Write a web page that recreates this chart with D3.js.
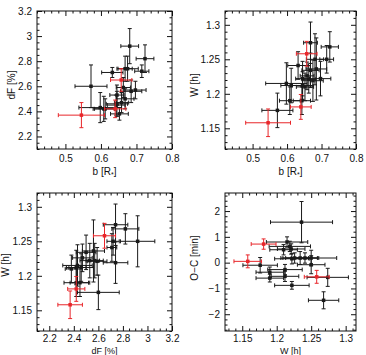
<!DOCTYPE html>
<html><head><meta charset="utf-8">
<script src="https://cdn.jsdelivr.net/npm/d3@7"></script>
<style>
body{margin:0;background:#fff}
svg{display:block}
text{font-family:"Liberation Sans",Arial,Helvetica,sans-serif;fill:#111}
</style>
</head><body><svg id="c" width="366" height="355"></svg>
<script>
// impact parameter b [R*]
const bVal   = [0.668,0.724,0.681,0.715,0.632,0.668,0.685,0.663,0.645,0.697,0.675,0.598,0.612,0.645,0.652,0.608,0.643,0.572,0.658, 0.545,0.640,0.657];
const bErr   = [0.020,0.025,0.025,0.020,0.030,0.025,0.030,0.020,0.020,0.030,0.030,0.060,0.030,0.030,0.025,0.030,0.025,0.045,0.020, 0.065,0.030,0.030];
// depth dF [%]
const dFVal  = [2.74,2.82,2.92,2.72,2.71,2.50,2.56,2.59,2.53,2.57,2.74,2.43,2.42,2.46,2.38,2.42,2.45,2.60,2.47, 2.37,2.42,2.65];
const dFErr  = [0.10,0.11,0.14,0.05,0.04,0.08,0.09,0.08,0.08,0.07,0.10,0.12,0.08,0.10,0.05,0.10,0.08,0.17,0.08, 0.10,0.07,0.09];
// duration W [h]
const wVal   = [1.274,1.268,1.250,1.250,1.241,1.234,1.236,1.221,1.222,1.222,1.219,1.215,1.212,1.212,1.210,1.190,1.190,1.176,1.226, 1.158,1.181,1.258];
const wErr   = [0.030,0.022,0.037,0.020,0.020,0.025,0.045,0.020,0.025,0.025,0.030,0.030,0.025,0.020,0.020,0.020,0.020,0.025,0.020, 0.020,0.018,0.018];
// O-C [min]
const ocVal  = [-0.57,-1.46,0.18,-0.08,0.18,0.18,1.57,0.53,0.15,-0.88,0.63,0.80,-0.27,-0.53,0.50,-0.60,-0.37,-0.10,0.18, 0.05,0.72,-0.55];
const ocErr  = [0.35,0.33,0.30,0.35,0.20,0.25,0.80,0.20,0.20,0.15,0.20,0.20,0.20,0.20,0.20,0.15,0.20,0.30,0.20, 0.25,0.20,0.25];
// highlighted (red) transits
const isRed  = [0,0,0,0,0,0,0,0,0,0,0,0,0,0,0,0,0,0,0, 1,1,1];

const bTicks  = [0.5,0.6,0.7,0.8];
const dFTicks = [2.2,2.4,2.6,2.8,3,3.2];
const wTicks  = [1.15,1.2,1.25,1.3];
const ocTicks = [-2,-1,0,1,2];

const svg = d3.select("#c");
const BLACK = "#1a1a1a", RED = "#e8262a";

const vars = {
  b:  {v:bVal,  e:bErr,  dom:[0.42,0.8],   ticks:bTicks,  minor:0.02, fmt:d=>String(d), label:"b"},
  dF: {v:dFVal, e:dFErr, dom:[2.1,3.2],    ticks:dFTicks, minor:0.05, fmt:d=>String(d), label:"dF [%]"},
  Wx: {v:wVal,  e:wErr,  dom:[1.125,1.315],ticks:wTicks,  minor:0.01, fmt:d=>String(d), label:"W [h]"},
  W:  {v:wVal,  e:wErr,  dom:[1.12,1.32],  ticks:wTicks,  minor:0.01, fmt:d=>String(d), label:"W [h]"},
  oc: {v:ocVal, e:ocErr, dom:[-2.65,2.7],  ticks:ocTicks, minor:0.2,  fmt:d=>d<0?"\u2212"+Math.abs(d):String(d), label:"O\u2212C [min]"}
};

const panels = [
  {x:"b",  y:"dF", L:37,  R:172, T:11,  B:149, xpad:6, xly:175, xlf:10, ylx:15,  yly:85},
  {x:"b",  y:"W",  L:225, R:356, T:11,  B:149, xpad:6, xly:175, xlf:10, ylx:198, yly:85},
  {x:"dF", y:"W",  L:37,  R:172, T:193, B:331, xpad:4, xly:353.5, xlf:9, ylx:9,   yly:265},
  {x:"Wx", y:"oc", L:225, R:356, T:193, B:331, xpad:4, xly:353.5, xlf:9, ylx:198, yly:258}
];

function minors(dom, step, majors){
  const out=[];
  const s=Math.ceil(dom[0]/step-1e-9), e=Math.floor(dom[1]/step+1e-9);
  for(let i=s;i<=e;i++){const v=+(i*step).toFixed(6); if(!majors.some(m=>Math.abs(m-v)<1e-6)) out.push(v);}
  return out;
}

panels.forEach(p=>{
  const X=vars[p.x], Y=vars[p.y];
  const xs=d3.scaleLinear().domain(X.dom).range([p.L,p.R]);
  const ys=d3.scaleLinear().domain(Y.dom).range([p.B,p.T]);
  const g=svg.append("g");
  const xMaj=X.ticks.filter(t=>t>=X.dom[0]&&t<=X.dom[1]);
  const yMaj=Y.ticks.filter(t=>t>=Y.dom[0]&&t<=Y.dom[1]);
  const xMin=minors(X.dom,X.minor,xMaj), yMin=minors(Y.dom,Y.minor,yMaj);

  function ax(gen, tr, vals, size, fmt, pad){
    const a=gen.tickValues(vals).tickSizeInner(-size).tickSizeOuter(0).tickPadding(pad);
    a.tickFormat(fmt||"");
    const sel=g.append("g").attr("transform",tr).call(a);
    sel.select(".domain").remove();
    sel.selectAll("line").attr("stroke","#111").attr("stroke-width",1);
    sel.selectAll("text").attr("font-size",10).attr("fill","#111");
    return sel;
  }
  ax(d3.axisBottom(xs),`translate(0,${p.B})`,xMaj,5,X.fmt,p.xpad);
  ax(d3.axisBottom(xs),`translate(0,${p.B})`,xMin,2.5,null,p.xpad);
  ax(d3.axisTop(xs),`translate(0,${p.T})`,xMaj,5,null,3);
  ax(d3.axisTop(xs),`translate(0,${p.T})`,xMin,2.5,null,3);
  ax(d3.axisLeft(ys),`translate(${p.L},0)`,yMaj,5,Y.fmt,5);
  ax(d3.axisLeft(ys),`translate(${p.L},0)`,yMin,2.5,null,5);
  ax(d3.axisRight(ys),`translate(${p.R},0)`,yMaj,5,null,3);
  ax(d3.axisRight(ys),`translate(${p.R},0)`,yMin,2.5,null,3);

  g.append("rect").attr("x",p.L).attr("y",p.T).attr("width",p.R-p.L).attr("height",p.B-p.T)
    .attr("fill","none").attr("stroke","#111").attr("stroke-width",1);

  // x label
  const xl=g.append("text").attr("x",(p.L+p.R)/2).attr("y",p.xly).attr("text-anchor","middle").attr("font-size",p.xlf);
  if(p.x==="b"){ xl.text("b [R"); xl.append("tspan").attr("font-size",7).attr("dy",2).text("*"); xl.append("tspan").attr("dy",-2).text("]"); }
  else xl.text(X.label);
  // y label
  g.append("text").attr("transform",`translate(${p.ylx},${p.yly}) rotate(-90)`).attr("text-anchor","middle")
    .attr("font-size",10).text(Y.label);

  // data
  const idx=d3.range(X.v.length).sort((a,b)=>isRed[a]-isRed[b]);
  const cap=2;
  idx.forEach(i=>{
    const col=isRed[i]?RED:BLACK;
    const cx=xs(X.v[i]), cy=ys(Y.v[i]);
    const x0=xs(X.v[i]-X.e[i]), x1=xs(X.v[i]+X.e[i]);
    const y0=ys(Y.v[i]-Y.e[i]), y1=ys(Y.v[i]+Y.e[i]);
    const pe=g.append("g").attr("stroke",col).attr("stroke-width",1).attr("fill","none");
    pe.append("line").attr("x1",x0).attr("x2",x1).attr("y1",cy).attr("y2",cy);
    pe.append("line").attr("x1",cx).attr("x2",cx).attr("y1",y0).attr("y2",y1);
    pe.append("line").attr("x1",x0).attr("x2",x0).attr("y1",cy-cap).attr("y2",cy+cap);
    pe.append("line").attr("x1",x1).attr("x2",x1).attr("y1",cy-cap).attr("y2",cy+cap);
    pe.append("line").attr("x1",cx-cap).attr("x2",cx+cap).attr("y1",y0).attr("y2",y0);
    pe.append("line").attr("x1",cx-cap).attr("x2",cx+cap).attr("y1",y1).attr("y2",y1);
    g.append("rect").attr("x",cx-1.75).attr("y",cy-1.75).attr("width",3.5).attr("height",3.5).attr("fill",col);
  });
});
</script>
</body></html>
